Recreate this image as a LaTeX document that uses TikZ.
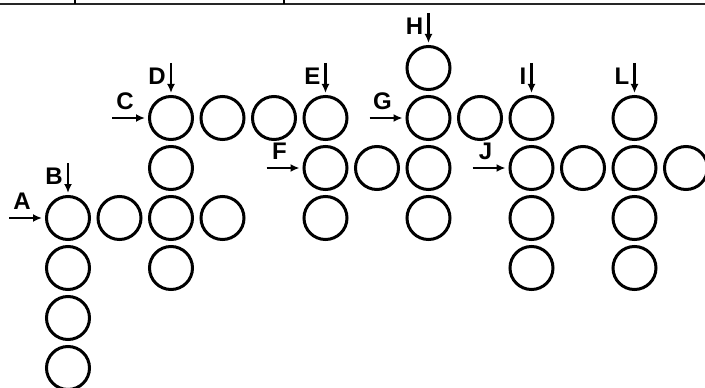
\documentclass[tikz,border=0pt]{standalone}
\usepackage{fontspec}
\setmainfont{Liberation Sans}
\usetikzlibrary{arrows.meta}
\begin{document}
\begin{tikzpicture}[x=51.5pt,y=-50pt,
    cell/.style={circle,draw,line width=3pt,minimum size=43pt,inner sep=0pt},
    lbl/.style={font=\bfseries\fontsize{24}{24}\selectfont,inner sep=0pt},
    ptr/.style={-{Latex[length=9pt,width=8pt]},line width=2.2pt}]
    \useasboundingbox (-1.3204,-1.36) rectangle (12.3689,6.4);
    % bord du tableau
    \draw[line width=2.2pt,black!85] (-1.3204,-1.28) -- (12.3689,-1.28);
    \draw[line width=1.5pt] (0.136,-1.36) -- (0.136,-1.28);
    \draw[line width=1.5pt] (4.194,-1.36) -- (4.194,-1.28);
    % cases
    \foreach \c/\r in {7/0,
        2/1,3/1,4/1,5/1,7/1,8/1,9/1,11/1,
        2/2,5/2,6/2,7/2,9/2,10/2,11/2,12/2,
        0/3,1/3,2/3,3/3,5/3,7/3,9/3,11/3,
        0/4,2/4,9/4,11/4,
        0/5,0/6}{
      \node[cell] (c\c-\r) at (\c,\r) {};}
    % horizontal
    \foreach \n/\lab in {0-3/A,2-1/C,5-2/F,7-1/G,9-2/J}{
      \path (c\n.west) ++(-36pt,0pt) coordinate (p\lab);
      \draw[ptr,shorten >=3pt] (p\lab) -- (c\n);
      \node[lbl] (l\lab) at ([shift={(13pt,17pt)}]p\lab) {\lab};}
    % vertical
    \foreach \n/\lab in {0-3/B,2-1/D,5-1/E,7-0/H,9-1/I,11-1/L}{
      \path (c\n.north) ++(0pt,32pt) coordinate (p\lab);
      \draw[ptr,shorten >=2pt] (p\lab) -- (c\n);
      \node[lbl,anchor=east] (l\lab) at ([shift={(-5pt,-13pt)}]p\lab) {\lab};}
\end{tikzpicture}
\end{document}
